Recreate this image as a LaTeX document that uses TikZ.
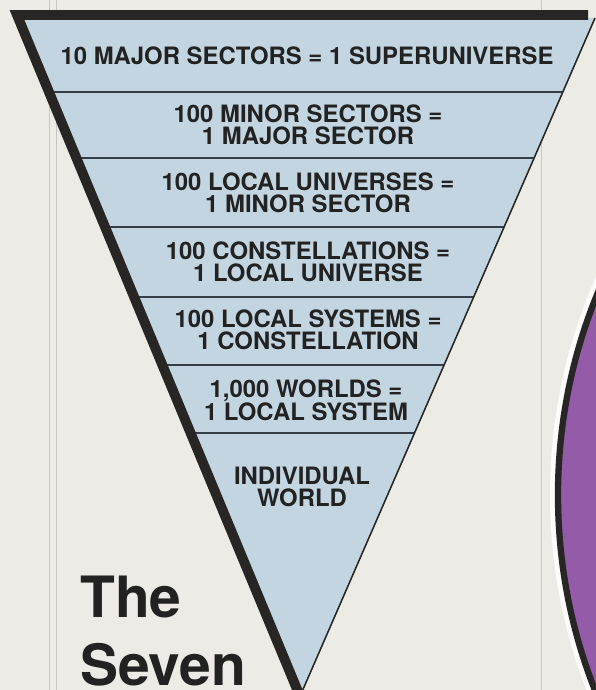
\documentclass[tikz,border=0pt]{standalone}
\usepackage{fontspec}
\setmainfont{TeX Gyre Heros}
\usepackage{xcolor}
\usetikzlibrary{positioning}

\definecolor{paper}{RGB}{236,235,230}
\definecolor{tierblue}{RGB}{196,213,226}
\definecolor{edgedark}{RGB}{40,38,36}
\definecolor{linedark}{RGB}{52,62,70}
\definecolor{inkdark}{RGB}{34,34,34}
\definecolor{orbpurple}{RGB}{148,92,168}

\begin{document}
\begin{tikzpicture}[
    x=0.025cm, y=-0.025cm,
    tier/.style={font=\bfseries\fontsize{17}{15.5}\selectfont, align=center, text=inkdark, inner sep=0pt},
    title/.style={font=\bfseries\fontsize{40.5}{48}\selectfont, text=inkdark, inner sep=0pt},
    divider/.style={draw=linedark, line width=1.3pt},
    frameline/.style={draw=gray!45, line width=0.6pt},
]
    \useasboundingbox (0,0) rectangle (596,690);
    \clip (0,0) rectangle (596,690);
    \fill[paper] (0,0) rectangle (596,690);

    % Page frame
    \draw[frameline] (49,0) -- (49,690);
    \draw[frameline] (56,0) -- (56,690);
    \draw[frameline] (541,0) -- (541,690);

    % Purple disc at the right edge
    \fill[white!85!paper] (1090,495) circle[radius=540];
    \draw[edgedark, fill=orbpurple, line width=4.5pt] (1090,495) circle[radius=532];

    % Inverted triangle
    \coordinate (tl) at (17,15);
    \coordinate (tr) at (595,18);
    \coordinate (tip) at (301,694);
    \fill[tierblue] (tl) -- (tr) -- (tip) -- cycle;
    \begin{scope}
        \clip (tl) -- (tr) -- (tip) -- cycle;
        \foreach \y in {92,158,227,297,365,433}
            \draw[divider] (0,\y) -- (596,\y);
    \end{scope}
    \draw[edgedark, line width=1.1pt] (tr) -- (tip);
    \draw[edgedark, line width=7pt, line join=miter] (588,15) -- (tl) -- (299,694);

    % Tiers
    \node[tier] (super) at (307,56) {10 MAJOR SECTORS = 1 SUPERUNIVERSE};
    \node[tier] (major) at (308,125) {100 MINOR SECTORS =\\1 MAJOR SECTOR};
    \node[tier] (minor) at (308,193) {100 LOCAL UNIVERSES =\\1 MINOR SECTOR};
    \node[tier] (localu) at (308,262) {100 CONSTELLATIONS =\\1 LOCAL UNIVERSE};
    \node[tier] (constel) at (308,330) {100 LOCAL SYSTEMS =\\1 CONSTELLATION};
    \node[tier] (system) at (306,400) {1,000 WORLDS =\\1 LOCAL SYSTEM};
    \node[tier] (world) at (302,487) {INDIVIDUAL\\WORLD};

    % Title
    \node[title, anchor=base west] (the) at (80,617) {The};
    \node[title, anchor=base west] (seven) at (80,685) {Seven};
\end{tikzpicture}
\end{document}
